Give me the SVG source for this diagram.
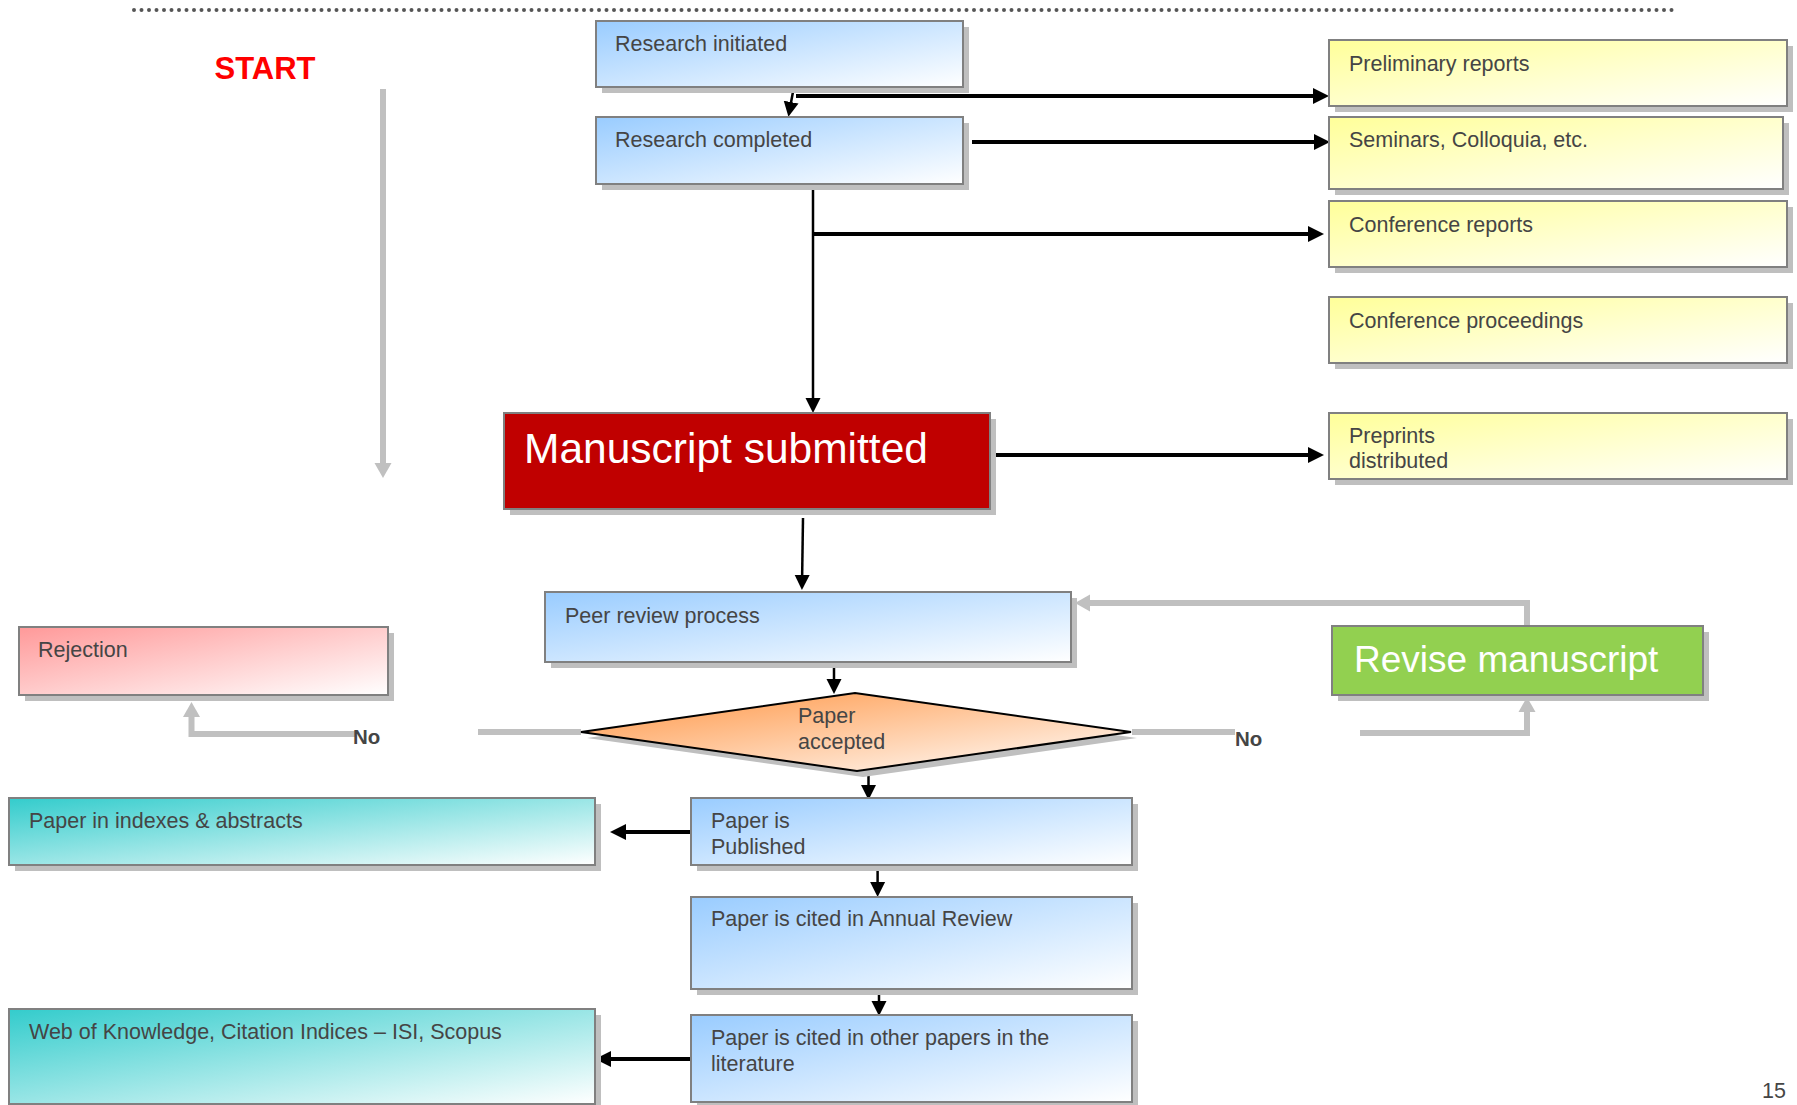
<svg xmlns="http://www.w3.org/2000/svg" width="1797" height="1105" viewBox="0 0 1797 1105">
<style>
text{font-family:"Liberation Sans",Arial,sans-serif;font-size:21.5px;fill:#454545}
.box{stroke:#808080;stroke-width:2}
.sh{fill:#BFBFBF}
.thin{stroke:#000;stroke-width:2.5;fill:none}
.thick{stroke:#000;stroke-width:4;fill:none}
.gray{stroke:#C0C0C0;stroke-width:6;fill:none}
.no{font-weight:bold;font-size:20.5px}
</style>
<defs>
<linearGradient id="gBlue" x1="0" y1="0" x2="1" y2="1"><stop offset="0" stop-color="#99CCFF"/><stop offset="1" stop-color="#FFFFFF"/></linearGradient>
<linearGradient id="gYel" x1="0" y1="0" x2="1" y2="1"><stop offset="0" stop-color="#FFFF99"/><stop offset="1" stop-color="#FFFFFF"/></linearGradient>
<linearGradient id="gRed" x1="0" y1="0" x2="1" y2="1"><stop offset="0" stop-color="#FF9999"/><stop offset="1" stop-color="#FFFFFF"/></linearGradient>
<linearGradient id="gTeal" x1="0" y1="0" x2="1" y2="1"><stop offset="0" stop-color="#33CCCC"/><stop offset="1" stop-color="#FFFFFF"/></linearGradient>
<linearGradient id="gOr" x1="0" y1="0" x2="1" y2="1"><stop offset="0.1" stop-color="#FF9F55"/><stop offset="1" stop-color="#FFFFFF"/></linearGradient>
<marker id="aThick" markerUnits="userSpaceOnUse" markerWidth="18" markerHeight="16" refX="4" refY="8" orient="auto"><path d="M0,0 L16,8 L0,16 z" fill="#000"/></marker>
<marker id="aThin" markerUnits="userSpaceOnUse" markerWidth="17" markerHeight="16" refX="4" refY="8" orient="auto"><path d="M0,0.5 L15,8 L0,15.5 z" fill="#000"/></marker>
<marker id="aGray" markerUnits="userSpaceOnUse" markerWidth="17" markerHeight="18" refX="4" refY="9" orient="auto"><path d="M0,0.5 L15,9 L0,17.5 z" fill="#C0C0C0"/></marker>
</defs>

<line x1="134" y1="10" x2="1676" y2="10" stroke="#555555" stroke-width="4" stroke-linecap="round" stroke-dasharray="0 7.5"/>
<text x="265" y="79" text-anchor="middle" style="font-weight:bold;font-size:31px;fill:#FF0000">START</text>
<text x="1762" y="1098">15</text>

<g id="connectors">
<line class="gray" x1="383" y1="89" x2="383" y2="467" marker-end="url(#aGray)"/>
<line class="thin" x1="793.5" y1="89" x2="790.4" y2="106" marker-end="url(#aThin)"/>
<line class="thick" x1="796" y1="96" x2="1317" y2="96" marker-end="url(#aThick)"/>
<line class="thick" x1="972" y1="142" x2="1318" y2="142" marker-end="url(#aThick)"/>
<line class="thin" x1="813" y1="189" x2="813" y2="402" marker-end="url(#aThin)"/>
<line class="thick" x1="813" y1="234" x2="1312" y2="234" marker-end="url(#aThick)"/>
<line class="thick" x1="990" y1="455" x2="1312" y2="455" marker-end="url(#aThick)"/>
<line class="thin" x1="803" y1="518" x2="802.1" y2="579" marker-end="url(#aThin)"/>
<line class="thin" x1="834" y1="662" x2="834" y2="683" marker-end="url(#aThin)"/>
<line class="thin" x1="868.5" y1="765" x2="868.5" y2="789" marker-end="url(#aThin)"/>
<line class="thin" x1="877.6" y1="868" x2="877.6" y2="886" marker-end="url(#aThin)"/>
<line class="thin" x1="879" y1="984" x2="879" y2="1005" marker-end="url(#aThin)"/>
<line class="thick" x1="691" y1="832" x2="622" y2="832" marker-end="url(#aThick)"/>
<line class="thick" x1="691" y1="1059" x2="607" y2="1059" marker-end="url(#aThick)"/>
<path class="gray" d="M1527,626 V603 H1086" marker-end="url(#aGray)"/>
<path class="gray" d="M1360,733 H1527 V708" marker-end="url(#aGray)"/>
<line class="gray" x1="1132" y1="732" x2="1235" y2="732"/>
<line class="gray" x1="581" y1="732" x2="478" y2="732"/>
<path class="gray" d="M356,734 H191.5 V713" marker-end="url(#aGray)"/>
<text class="no" x="353" y="744">No</text>
<text class="no" x="1235" y="746">No</text>
</g>

<g id="research-initiated">
<rect class="sh" x="602" y="27" width="367" height="66"/>
<rect class="box" x="596" y="21" width="367" height="66" fill="url(#gBlue)"/>
<text x="615" y="51">Research initiated</text>
</g>
<g id="research-completed">
<rect class="sh" x="602" y="123" width="367" height="67"/>
<rect class="box" x="596" y="117" width="367" height="67" fill="url(#gBlue)"/>
<text x="615" y="147">Research completed</text>
</g>
<g id="preliminary-reports">
<rect class="sh" x="1335" y="46" width="458" height="66"/>
<rect class="box" x="1329" y="40" width="458" height="66" fill="url(#gYel)"/>
<text x="1349" y="71">Preliminary reports</text>
</g>
<g id="seminars">
<rect class="sh" x="1335" y="123" width="454" height="72"/>
<rect class="box" x="1329" y="117" width="454" height="72" fill="url(#gYel)"/>
<text x="1349" y="147">Seminars, Colloquia, etc.</text>
</g>
<g id="conference-reports">
<rect class="sh" x="1335" y="207" width="458" height="66"/>
<rect class="box" x="1329" y="201" width="458" height="66" fill="url(#gYel)"/>
<text x="1349" y="232">Conference reports</text>
</g>
<g id="conference-proceedings">
<rect class="sh" x="1335" y="303" width="458" height="66"/>
<rect class="box" x="1329" y="297" width="458" height="66" fill="url(#gYel)"/>
<text x="1349" y="328">Conference proceedings</text>
</g>
<g id="preprints">
<rect class="sh" x="1335" y="419" width="458" height="66"/>
<rect class="box" x="1329" y="413" width="458" height="66" fill="url(#gYel)"/>
<text x="1349" y="443">Preprints</text>
<text x="1349" y="468">distributed</text>
</g>
<g id="manuscript-submitted">
<rect class="sh" x="510" y="419" width="486" height="96"/>
<rect class="box" x="504" y="413" width="486" height="96" fill="#C00000"/>
<text x="524" y="463" style="font-size:42.5px;fill:#FFFFFF">Manuscript submitted</text>
</g>
<g id="peer-review">
<rect class="sh" x="551" y="598" width="526" height="70"/>
<rect class="box" x="545" y="592" width="526" height="70" fill="url(#gBlue)"/>
<text x="565" y="623">Peer review process</text>
</g>
<g id="rejection">
<rect class="sh" x="25" y="633" width="369" height="68"/>
<rect class="box" x="19" y="627" width="369" height="68" fill="url(#gRed)"/>
<text x="38" y="657">Rejection</text>
</g>
<g id="revise-manuscript">
<rect class="sh" x="1338" y="632" width="371" height="69"/>
<rect class="box" x="1332" y="626" width="371" height="69" fill="#92D050"/>
<text x="1354" y="672" style="font-size:37px;fill:#FFFFFF">Revise manuscript</text>
</g>
<g id="paper-accepted">
<polygon points="587,738 861,699 1137,738 863,777" fill="#BFBFBF"/>
<polygon points="581,732 855,693 1131,732 857,771" fill="url(#gOr)" stroke="#000" stroke-width="2"/>
<text x="798" y="723">Paper</text>
<text x="798" y="749">accepted</text>
</g>
<g id="paper-indexes">
<rect class="sh" x="15" y="804" width="586" height="67"/>
<rect class="box" x="9" y="798" width="586" height="67" fill="url(#gTeal)"/>
<text x="29" y="828">Paper in indexes &amp; abstracts</text>
</g>
<g id="paper-published">
<rect class="sh" x="697" y="804" width="441" height="67"/>
<rect class="box" x="691" y="798" width="441" height="67" fill="url(#gBlue)"/>
<text x="711" y="828">Paper is</text>
<text x="711" y="854">Published</text>
</g>
<g id="annual-review">
<rect class="sh" x="697" y="903" width="441" height="92"/>
<rect class="box" x="691" y="897" width="441" height="92" fill="url(#gBlue)"/>
<text x="711" y="926">Paper is cited in Annual Review</text>
</g>
<g id="other-papers">
<rect class="sh" x="697" y="1021" width="441" height="87"/>
<rect class="box" x="691" y="1015" width="441" height="87" fill="url(#gBlue)"/>
<text x="711" y="1045">Paper is cited in other papers in the</text>
<text x="711" y="1071">literature</text>
</g>
<g id="web-of-knowledge">
<rect class="sh" x="15" y="1015" width="586" height="95"/>
<rect class="box" x="9" y="1009" width="586" height="95" fill="url(#gTeal)"/>
<text x="29" y="1039">Web of Knowledge, Citation Indices – ISI, Scopus</text>
</g>
</svg>
